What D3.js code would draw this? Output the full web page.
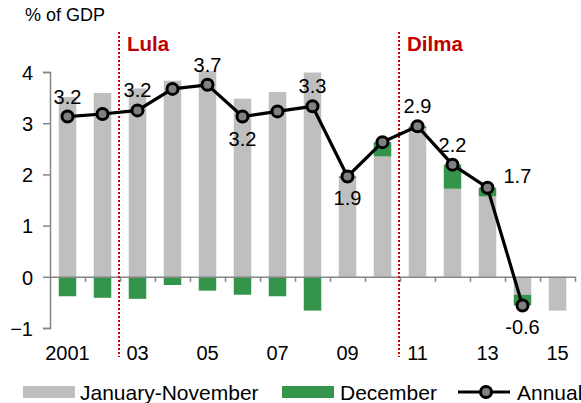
<!DOCTYPE html>
<html lang="en">
  <head>
    <meta charset="utf-8">
    <title>Brazil primary balance</title>
    <script type="text/javascript" src="https://d3js.org/d3.v7.min.js"></script>
    <style>
    body {
      margin:0;
      background-color:#ffffff;
    }
    svg text {
      font-family:"Liberation Sans", Arial, sans-serif;
      fill:#000000;
    }
    </style>
  </head>
  <body>
    <div id="chart"></div>
    <script type="text/javascript">
// data
    const years = ["2001","2002","2003","2004","2005","2006","2007","2008","2009","2010","2011","2012","2013","2014","2015"];
    const janNov = [3.51, 3.59, 3.68, 3.83, 4.02, 3.48, 3.61, 3.99, 1.93, 2.35, 2.90, 1.72, 1.57, -0.35, -0.66];
    const december = [-0.38, -0.41, -0.43, -0.16, -0.27, -0.35, -0.38, -0.66, 0.03, 0.28, 0.04, 0.47, 0.17, -0.21, 0];
    const annual = [3.13, 3.18, 3.25, 3.67, 3.75, 3.13, 3.23, 3.33, 1.96, 2.63, 2.94, 2.19, 1.74, -0.56, null];
    const annualLabels = ["3.2", null, "3.2", null, "3.7", "3.2", null, "3.3", "1.9", null, "2.9", "2.2", "1.7", "-0.6", null];
    const labelSide = ["above", null, "above", null, "above", "below", null, "above", "below", null, "above", "above", "right", "below", null];
    const xTickLabels = ["2001", "", "03", "", "05", "", "07", "", "09", "", "11", "", "13", "", "15"];
    const yTicks = [-1, 0, 1, 2, 3, 4];
    const terms = [{name: "Lula", start: "2003"}, {name: "Dilma", start: "2011"}];

    const width = 581, height = 403;
    const grey = "#bfbfbf", green = "#349449", axisColor = "#868686", red = "#d40000";

    const svg = d3.select("#chart").append("svg").attr("width", width).attr("height", height);

    const x = d3.scaleBand().domain(years).range([50, 575]).paddingInner(0.5).paddingOuter(0.25);
    const xEdge = d3.scaleLinear().domain([0, years.length]).range([50, 575]);
    const y = d3.scaleLinear().domain([-1, 4]).range([328, 72]);

// stacked bars (negative parts go below zero)
    const rows = years.map((yr, i) => ({year: yr, janNov: janNov[i], dec: december[i]}));
    const stack = d3.stack().keys(["janNov", "dec"]).offset(d3.stackOffsetDiverging)(rows);
    const colors = {janNov: grey, dec: green};
    svg.append("g").selectAll("g").data(stack).join("g")
      .attr("fill", d => colors[d.key])
      .selectAll("rect").data(d => d).join("rect")
      .attr("x", d => x(d.data.year))
      .attr("width", x.bandwidth())
      .attr("y", d => y(Math.max(d[0], d[1])))
      .attr("height", d => Math.abs(y(d[0]) - y(d[1])));

// y axis
    const yAxis = svg.append("g").attr("transform", "translate(50,0)")
      .call(d3.axisLeft(y).tickValues(yTicks).tickSize(7).tickPadding(10).tickFormat(d3.format("d")));
    yAxis.select(".domain").attr("stroke", axisColor).attr("stroke-width", 1.5);
    yAxis.selectAll(".tick line").attr("stroke", axisColor).attr("stroke-width", 1.5);
    yAxis.selectAll(".tick text").attr("font-size", "20px").attr("dy", "0.36em");

// x axis on the zero line, ticks between years
    const xAxis = svg.append("g").attr("transform", `translate(0,${y(0)})`)
      .call(d3.axisBottom(xEdge).tickValues(d3.range(1, years.length + 1)).tickSize(5).tickFormat("").tickSizeOuter(0));
    xAxis.select(".domain").attr("stroke", axisColor).attr("stroke-width", 1.5);
    xAxis.selectAll(".tick line").attr("stroke", axisColor).attr("stroke-width", 1.5);

// year labels at the bottom
    const xLab = svg.append("g").attr("transform", "translate(0,345)")
      .call(d3.axisBottom(x).tickSize(0).tickPadding(0).tickFormat((d, i) => xTickLabels[i]));
    xLab.select(".domain").remove();
    xLab.selectAll(".tick text").attr("font-size", "20px").attr("dy", "15px");

// presidential terms
    terms.forEach(t => {
      const tx = xEdge(years.indexOf(t.start)) - 1;
      svg.append("line").attr("x1", tx).attr("x2", tx).attr("y1", 32).attr("y2", 357)
        .attr("stroke", red).attr("stroke-width", 2).attr("stroke-dasharray", "2,2");
      svg.append("text").attr("x", tx + 8).attr("y", 51).attr("font-size", "20.5px")
        .attr("font-weight", "bold").style("fill", "#c00000").text(t.name);
    });

// annual line
    const pts = years.map((yr, i) => ({year: yr, v: annual[i], label: annualLabels[i], side: labelSide[i]}))
      .filter(d => d.v !== null);
    const line = d3.line().x(d => x(d.year) + x.bandwidth() / 2).y(d => y(d.v));
    svg.append("path").datum(pts).attr("fill", "none").attr("stroke", "#000000")
      .attr("stroke-width", 3.2).attr("d", line);
    svg.append("g").selectAll("circle").data(pts).join("circle")
      .attr("cx", d => x(d.year) + x.bandwidth() / 2).attr("cy", d => y(d.v)).attr("r", 5.5)
      .attr("fill", "#808080").attr("stroke", "#000000").attr("stroke-width", 3);

    svg.append("g").selectAll("text").data(pts.filter(d => d.label)).join("text")
      .attr("font-size", "20px")
      .attr("text-anchor", d => d.side == "right" ? "start" : "middle")
      .attr("x", d => x(d.year) + x.bandwidth() / 2 + (d.side == "right" ? 16 : 0))
      .attr("y", d => y(d.v) + (d.side == "above" ? -13 : d.side == "below" ? 29 : -5))
      .text(d => d.label);

// title
    svg.append("text").attr("x", 25).attr("y", 21).attr("font-size", "18px").text("% of GDP");

// legend
    const lg = svg.append("g").attr("transform", "translate(0,392)");
    lg.append("rect").attr("x", 23).attr("y", -6).attr("width", 52).attr("height", 12).attr("fill", grey);
    lg.append("text").attr("x", 80).attr("y", 7.5).attr("font-size", "21px").text("January-November");
    lg.append("rect").attr("x", 282).attr("y", -6).attr("width", 52).attr("height", 12).attr("fill", green);
    lg.append("text").attr("x", 340).attr("y", 7.5).attr("font-size", "21px").text("December");
    lg.append("line").attr("x1", 458).attr("x2", 510).attr("y1", 0).attr("y2", 0)
      .attr("stroke", "#000000").attr("stroke-width", 3.2);
    lg.append("circle").attr("cx", 486).attr("cy", 0).attr("r", 5.5)
      .attr("fill", "#808080").attr("stroke", "#000000").attr("stroke-width", 3);
    lg.append("text").attr("x", 517).attr("y", 7.5).attr("font-size", "21px").text("Annual");
    </script>
  </body>
</html>
